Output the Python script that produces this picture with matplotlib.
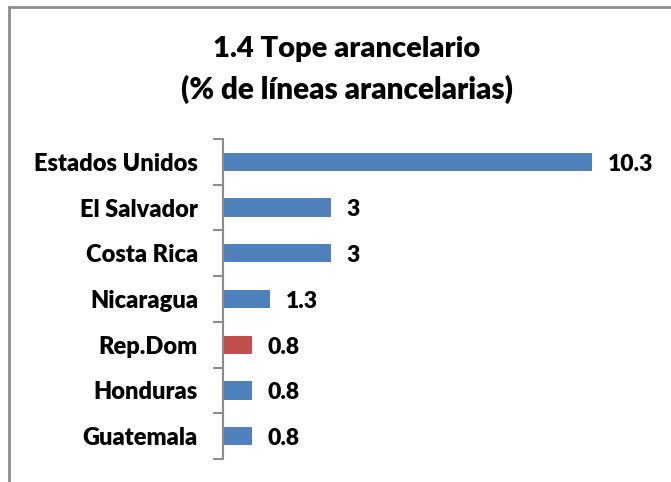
import matplotlib.pyplot as plt
from matplotlib.patches import Rectangle

paises = ['Estados Unidos', 'El Salvador', 'Costa Rica', 'Nicaragua', 'Rep.Dom', 'Honduras', 'Guatemala']
valores = [10.3, 3, 3, 1.3, 0.8, 0.8, 0.8]
etiquetas = ['10.3', '3', '3', '1.3', '0.8', '0.8', '0.8']
colores = ['#4F81BD', '#4F81BD', '#4F81BD', '#4F81BD', '#C0504D', '#4F81BD', '#4F81BD']

plt.rcParams['font.family'] = ['Lato', 'DejaVu Sans']
peso = 'heavy'

fig = plt.figure(figsize=(6.71, 4.82), dpi=100)
ax = fig.add_axes([223/671, 1-459/482, 430/671, 320/482])

# marco exterior del grafico
fig.patches.append(Rectangle((9/671, -0.2), 2, 1.2-7/482, transform=fig.transFigure,
                             fill=False, edgecolor='#8c8c8c', lw=2))

pos = list(range(len(paises)))[::-1]
ax.barh(pos, valores, height=0.4, color=colores)
for p, v, t in zip(pos, valores, etiquetas):
    ax.text(v + 0.45, p - 0.05, t, va='center', ha='left', fontsize=16.5, fontweight=peso)

ax.set_xlim(0, 12)
ax.set_ylim(-0.5, len(paises) - 0.5)
ax.set_yticks(pos)
ax.set_yticklabels(paises, fontsize=17, fontweight=peso)
ax.set_yticks([i - 0.5 for i in range(len(paises) + 1)], minor=True)
ax.tick_params(axis='y', which='major', length=0, pad=18)
ax.tick_params(axis='y', which='minor', length=7, width=1.5, color='#8c8c8c')
ax.set_xticks([])
for s in ['top', 'right', 'bottom']:
    ax.spines[s].set_visible(False)
ax.spines['left'].set_color('#8c8c8c')
ax.spines['left'].set_linewidth(1.5)

fig.text(347/671, 1-49/482, '1.4 Tope arancelario', ha='center', va='center', fontsize=21, fontweight=peso)
fig.text(347/671, 1-89/482, '(% de líneas arancelarias)', ha='center', va='center', fontsize=21.3, fontweight=peso)

fig.savefig('out.png', dpi=100)
